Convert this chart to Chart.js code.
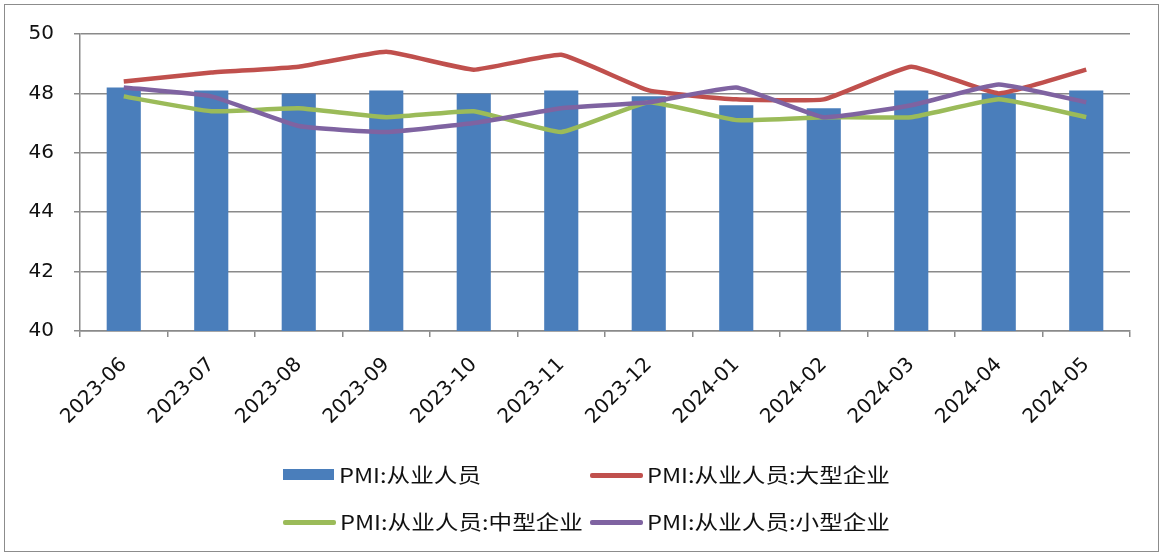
<!DOCTYPE html>
<html>
<head>
<meta charset="utf-8">
<script src="https://cdn.jsdelivr.net/npm/chart.js@4.4.1/dist/chart.umd.min.js"></script>
<style>
  body { margin: 0; background: #fff; }
  #wrap { position: relative; width: 1163px; height: 554px; overflow: hidden; }
  #frame { position: absolute; left: 4px; top: 4px; width: 1155px; height: 548px; border: 1.5px solid #8c8c8c; box-sizing: border-box; pointer-events: none; }
  .item { position: absolute; height: 30px; }
  .sw { position: absolute; left: 0; }
  .txt { position: absolute; top: 0; line-height: 30px; font-family: "Noto Sans CJK SC", "Noto Sans", sans-serif; font-size: 20px; color: #111; white-space: nowrap; transform: scaleX(1.18); transform-origin: left center; }
</style>
</head>
<body>
<div id="wrap">
  <canvas id="pmi_chart" width="1163" height="554"></canvas>
  <div id="legend"></div>
  <div id="frame"></div>
</div>
<script>
// months on the x axis
var months = ['2023-06', '2023-07', '2023-08', '2023-09', '2023-10', '2023-11',
  '2023-12', '2024-01', '2024-02', '2024-03', '2024-04', '2024-05'];

// PMI employment sub-index
var pmi_all = [48.2, 48.1, 48.0, 48.1, 48.0, 48.1, 47.9, 47.6, 47.5, 48.1, 48.0, 48.1];
var pmi_large = [48.4, 48.7, 48.9, 49.4, 48.8, 49.3, 48.1, 47.8, 47.8, 48.9, 48.0, 48.8];
var pmi_medium = [47.9, 47.4, 47.5, 47.2, 47.4, 46.7, 47.7, 47.1, 47.2, 47.2, 47.8, 47.2];
var pmi_small = [48.2, 47.9, 46.9, 46.7, 47.0, 47.5, 47.7, 48.2, 47.2, 47.6, 48.3, 47.7];

var names = ['PMI:从业人员', 'PMI:从业人员:大型企业', 'PMI:从业人员:中型企业', 'PMI:从业人员:小型企业'];
var colors = ['#4A7EBB', '#C0504D', '#9BBB59', '#7F63A1'];

var yTicks = [40, 42, 44, 46, 48, 50];

var gridColor = '#8a8a8a';
var tickFont = { family: 'DejaVu Sans', size: 20 };

function lineSet(label, data, color, order) {
  return {
    type: 'line',
    label: label,
    data: data,
    borderColor: color,
    backgroundColor: color,
    borderWidth: 4.5,
    pointRadius: 0,
    tension: 0.12,
    fill: false,
    order: order
  };
}

var ctx = document.getElementById('pmi_chart').getContext('2d');
var chart = new Chart(ctx, {
  type: 'bar',
  data: {
    labels: months,
    datasets: [
      {
        label: names[0],
        data: pmi_all,
        backgroundColor: colors[0],
        borderWidth: 0,
        barPercentage: 0.39,
        categoryPercentage: 1.0,
        order: 4
      },
      lineSet(names[1], pmi_large, colors[1], 3),
      lineSet(names[2], pmi_medium, colors[2], 2),
      lineSet(names[3], pmi_small, colors[3], 1)
    ]
  },
  options: {
    responsive: false,
    animation: false,
    layout: { padding: { left: 0, top: 34, right: 33, bottom: 0 } },
    plugins: {
      legend: { display: false },
      tooltip: { enabled: false }
    },
    scales: {
      x: {
        offset: true,
        grid: { offset: true, drawOnChartArea: false, drawTicks: true, tickLength: 6, color: gridColor, lineWidth: 1.5 },
        border: { display: true, color: gridColor, width: 1.5 },
        ticks: { color: '#111', font: tickFont, minRotation: 45, maxRotation: 45, padding: 16, autoSkip: false },
        afterFit: function (scale) { scale.height = 223; }
      },
      y: {
        min: 40,
        max: 50,
        afterBuildTicks: function (scale) {
          scale.ticks = yTicks.map(function (v) { return { value: v }; });
        },
        grid: { color: gridColor, lineWidth: 1.5, drawTicks: true, tickLength: 6 },
        border: { display: true, color: gridColor, width: 1.5 },
        ticks: { color: '#111', font: tickFont, padding: 20 },
        afterFit: function (scale) { scale.width = 80; }
      }
    }
  }
});

// legend drawn as html, two columns like the original
var legendSpots = [
  { left: 283, top: 475, kind: 'bar' },
  { left: 590, top: 475, kind: 'line' },
  { left: 283, top: 522, kind: 'line' },
  { left: 590, top: 522, kind: 'line' }
];
var legend = document.getElementById('legend');
for (var i = 0; i < names.length; i++) {
  var spot = legendSpots[i];
  var item = document.createElement('div');
  item.className = 'item';
  item.style.left = spot.left + 'px';
  item.style.top = (spot.top - 15) + 'px';
  var sw = document.createElement('div');
  sw.className = 'sw';
  sw.style.background = colors[i];
  if (spot.kind == 'bar') {
    sw.style.width = '51px';
    sw.style.height = '11px';
    sw.style.top = '9px';
  } else {
    sw.style.width = '53px';
    sw.style.height = '4.5px';
    sw.style.top = '13px';
    sw.style.borderRadius = '2px';
  }
  var txt = document.createElement('div');
  txt.className = 'txt';
  txt.style.left = (spot.kind == 'bar' ? 56 : 57) + 'px';
  txt.textContent = names[i];
  item.appendChild(sw);
  item.appendChild(txt);
  legend.appendChild(item);
}
</script>
</body>
</html>
